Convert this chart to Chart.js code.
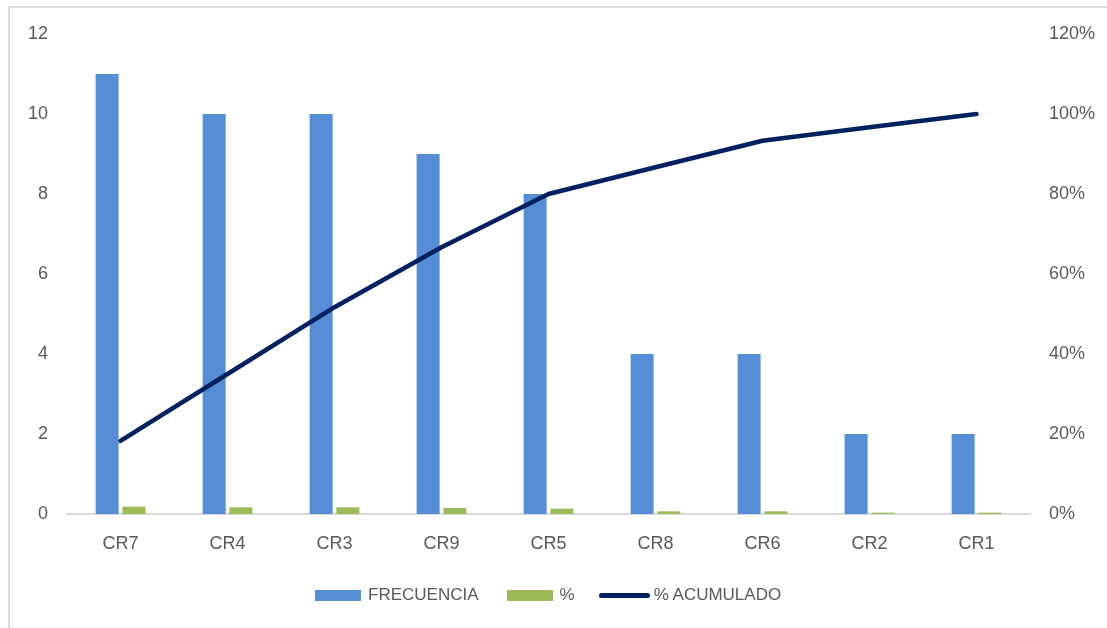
<!DOCTYPE html>
<html>
<head>
<meta charset="utf-8">
<script src="https://cdn.jsdelivr.net/npm/chart.js@4.4.0/dist/chart.umd.min.js"></script>
<style>
  html, body { margin: 0; padding: 0; background: #fff; overflow: hidden; }
  #wrap { position: relative; width: 1107px; height: 628px; }
  #frame { position: absolute; left: 8px; top: 6px; width: 1200px; height: 700px; border: 2px solid #dcdcdc; box-sizing: border-box; }
  #c { position: absolute; left: 0; top: 0; }
  #legend { position: absolute; left: 315px; top: 583px; height: 24px; display: flex; align-items: center;
            font-family: "Liberation Sans", Arial, sans-serif; font-size: 17px; color: #595959; white-space: nowrap; }
  .item { display: flex; align-items: center; }
  .sw-bar { width: 46px; height: 11px; margin-right: 7px; }
  .sw-line { width: 51px; height: 5px; border-radius: 3px; margin-right: 4px; }
</style>
</head>
<body>
<div id="wrap">
  <div id="frame"></div>
  <canvas id="c" width="1107" height="628"></canvas>
  <div id="legend"></div>
</div>
<script>
const categories = ["CR7", "CR4", "CR3", "CR9", "CR5", "CR8", "CR6", "CR2", "CR1"];
const frecuencia = [11, 10, 10, 9, 8, 4, 4, 2, 2];
const porcentaje = [0.183, 0.167, 0.167, 0.15, 0.133, 0.067, 0.067, 0.033, 0.033];
const acumulado = [0.183, 0.35, 0.517, 0.667, 0.80, 0.867, 0.933, 0.967, 1.0];
const seriesNames = ["FRECUENCIA", "%", "% ACUMULADO"];
const leftTicks = [0, 2, 4, 6, 8, 10, 12];
const rightTicks = [0, 0.2, 0.4, 0.6, 0.8, 1.0, 1.2];

const COL_BLUE = "#558ed5";
const COL_GREEN = "#9bbb59";
const COL_NAVY = "#002060";
const TXT = "#595959";
const FONT = { family: "'Liberation Sans', Arial, sans-serif", size: 18 };

const chart = new Chart(document.getElementById("c"), {
  type: "bar",
  data: {
    labels: categories,
    datasets: [
      { type: "bar", label: seriesNames[0], data: frecuencia, backgroundColor: COL_BLUE, yAxisID: "y",
        categoryPercentage: 0.5, barPercentage: 0.86, order: 1 },
      { type: "bar", label: seriesNames[1], data: porcentaje, backgroundColor: COL_GREEN, yAxisID: "y",
        categoryPercentage: 0.5, barPercentage: 0.86, order: 1 },
      { type: "line", label: seriesNames[2], data: acumulado, borderColor: COL_NAVY, backgroundColor: COL_NAVY,
        borderWidth: 4.5, pointRadius: 0, tension: 0, yAxisID: "y1", borderCapStyle: "round", borderJoinStyle: "round", order: 0 }
    ]
  },
  options: {
    responsive: false,
    animation: false,
    devicePixelRatio: 1,
    layout: { padding: { top: 34, left: 0, right: 0, bottom: 0 } },
    plugins: { legend: { display: false }, tooltip: { enabled: false } },
    scales: {
      x: {
        grid: { display: false, drawTicks: false },
        border: { display: true, color: "#d9d9d9", width: 2 },
        ticks: { color: TXT, font: FONT, padding: 19, maxRotation: 0 },
        afterFit: s => { s.height = 114; }
      },
      y: {
        position: "left",
        min: 0, max: 12,
        afterBuildTicks: s => { s.ticks = leftTicks.map(v => ({ value: v })); },
        grid: { display: false, drawTicks: false },
        border: { display: false },
        ticks: { color: TXT, font: FONT, padding: 19 },
        afterFit: s => { s.width = 67; }
      },
      y1: {
        position: "right",
        min: 0, max: 1.2,
        afterBuildTicks: s => { s.ticks = rightTicks.map(v => ({ value: v })); },
        grid: { display: false, drawTicks: false },
        border: { display: false },
        ticks: { color: TXT, font: FONT, padding: 19, callback: v => Math.round(v * 100) + "%" },
        afterFit: s => { s.width = 77; }
      }
    }
  }
});

// HTML legend built from the datasets
const legend = document.getElementById("legend");
const gaps = [0, 28, 24];
chart.data.datasets.forEach((ds, i) => {
  const item = document.createElement("div");
  item.className = "item";
  item.style.marginLeft = gaps[i] + "px";
  const sw = document.createElement("span");
  if (ds.type === "line") {
    sw.className = "sw-line";
    sw.style.background = ds.borderColor;
  } else {
    sw.className = "sw-bar";
    sw.style.background = ds.backgroundColor;
  }
  const t = document.createElement("span");
  t.textContent = ds.label;
  item.appendChild(sw);
  item.appendChild(t);
  legend.appendChild(item);
});
</script>
</body>
</html>
